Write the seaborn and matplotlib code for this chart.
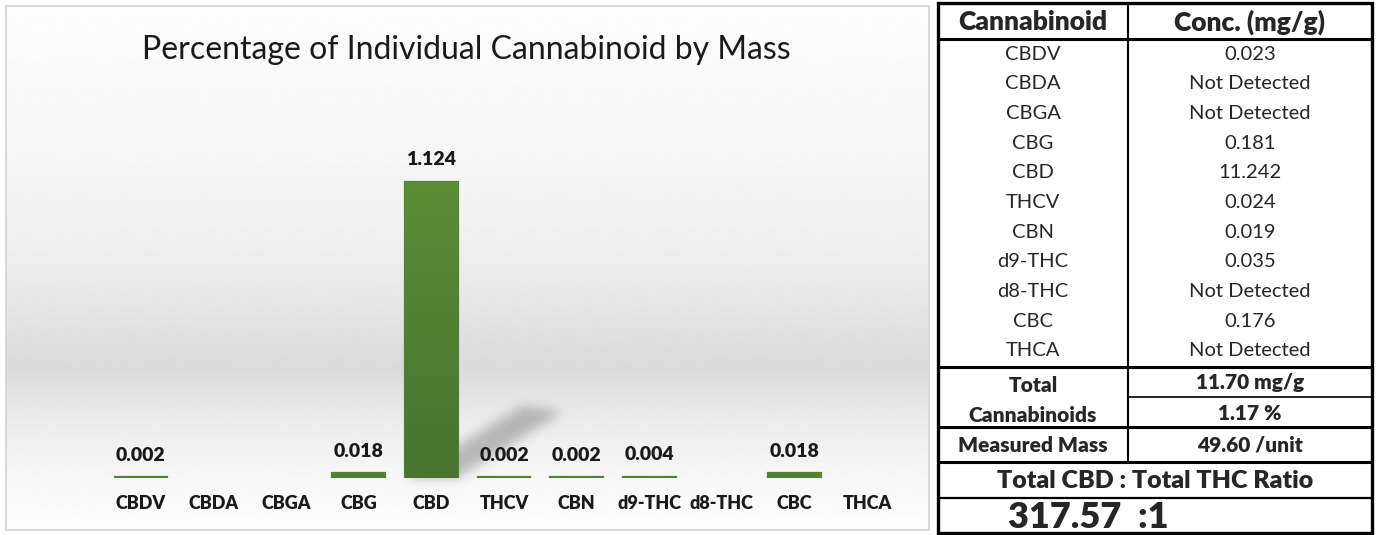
import numpy as np
import pandas as pd
import matplotlib
matplotlib.use("Agg")
import matplotlib.pyplot as plt
import seaborn as sns
from matplotlib.path import Path
from matplotlib.colors import LinearSegmentedColormap

# data
cannabinoids = ["CBDV", "CBDA", "CBGA", "CBG", "CBD", "THCV", "CBN", "d9-THC", "d8-THC", "CBC", "THCA"]
pct_by_mass = [0.002, 0.0, 0.0, 0.018, 1.124, 0.002, 0.002, 0.004, 0.0, 0.018, 0.0]
conc_mg_g = ["0.023", "Not Detected", "Not Detected", "0.181", "11.242", "0.024",
             "0.019", "0.035", "Not Detected", "0.176", "Not Detected"]
total_mg_g = "11.70 mg/g"
total_pct = "1.17 %"
measured_mass = "49.60 /unit"
cbd_thc_ratio = "317.57  :1"

sns.set_theme(style="white")
plt.rcParams["font.family"] = ["Lato", "DejaVu Sans"]

W, H = 1376, 535
fig = plt.figure(figsize=(W / 100, H / 100), dpi=100)
fig.patch.set_facecolor("white")

# background layer in pixel coords, y pointing down
bg = fig.add_axes([0, 0, 1, 1])
bg.axis("off")

# chart panel with the grey "floor" gradient
stops_y = [6, 150, 250, 300, 367, 400, 440, 480, 530]
stops_v = [0.99, 0.965, 0.935, 0.905, 0.855, 0.90, 0.94, 0.97, 0.99]
grad = np.interp(np.arange(6, 531), stops_y, stops_v)[:, None]
bg.imshow(grad, cmap="gray", vmin=0, vmax=1, extent=[6, 929, 530, 6],
          aspect="auto", interpolation="bilinear", zorder=0)
bg.add_patch(plt.Rectangle((6, 6), 923, 524, fill=False, ec="#d6d6d6", lw=1.3, zorder=1))

# bar chart
ax = fig.add_axes([104.7 / W, (H - 478) / H, 798.6 / W, 329.2 / H])
ax.patch.set_alpha(0)
df = pd.DataFrame({"cannabinoid": cannabinoids, "pct": pct_by_mass})
sns.barplot(data=df, x="cannabinoid", y="pct", order=cannabinoids, color="#548235",
            saturation=1, width=0.73, edgecolor="#548235", linewidth=1.6, ax=ax)
ax.set_ylim(0, 1.25)
ax.set_xlim(-0.5, 10.5)

bar_cmap = LinearSegmentedColormap.from_list("g", ["#4a7230", "#5b8d36"])
for p, v in zip(ax.patches, pct_by_mass):
    if v <= 0:
        p.set_linewidth(0)
        continue
    x0 = p.get_x()
    x1 = x0 + p.get_width()
    if v > 0.1:
        im = ax.imshow(np.linspace(1, 0, 50)[:, None], cmap=bar_cmap, extent=[x0, x1, 0, v],
                       aspect="auto", zorder=p.get_zorder() + 0.1)
        im.set_clip_path(p)
    ax.annotate(f"{v:.3f}", (x0 + p.get_width() / 2, v), xytext=(0, 16),
                textcoords="offset points", ha="center", va="center",
                fontsize=14, fontweight=800, color="#1a1a1a")
ax.set_ylim(0, 1.25)
ax.set_xlim(-0.5, 10.5)

ax.tick_params(axis="x", length=0, pad=12, labelsize=13, labelcolor="#1a1a1a")
for t in ax.get_xticklabels():
    t.set_fontweight(800)
ax.set_xlabel("")
ax.set_ylabel("")
ax.set_yticks([])
sns.despine(ax=ax, left=True, bottom=True)

# soft shadow cast by the tallest bar
big = ax.patches[int(np.argmax(pct_by_mass))]
(xl, yb), (xr, _) = ax.transData.transform(
    [(big.get_x(), 0), (big.get_x() + big.get_width(), 0)])
yb = H - yb
poly = Path([(xl, yb), (xr, yb), (xr + 104, yb - 66), (xl + 118, yb - 72), (xl, yb)])
gx, gy = np.meshgrid(np.arange(int(xl) - 30, int(xr) + 150) + 0.5,
                     np.arange(int(yb) - 110, int(yb) + 20) + 0.5)
mask = poly.contains_points(np.c_[gx.ravel(), gy.ravel()]).reshape(gx.shape).astype(float)
k = np.exp(-0.5 * (np.arange(-15, 16) / 5.5) ** 2)
k /= k.sum()
mask = np.apply_along_axis(lambda r: np.convolve(r, k, mode="same"), 1, mask)
mask = np.apply_along_axis(lambda c: np.convolve(c, k, mode="same"), 0, mask)
rgba = np.zeros(mask.shape + (4,))
rgba[..., :3] = 0.35
rgba[..., 3] = mask * 0.38
bg.imshow(rgba, extent=[gx.min() - 0.5, gx.max() + 0.5, gy.max() + 0.5, gy.min() - 0.5],
          aspect="auto", interpolation="bilinear", zorder=0.5)

fig.text(466 / W, 1 - 50 / H, "Percentage of Individual Cannabinoid by Mass",
         ha="center", va="center", fontsize=23, color="#1a1a1a")

# results table
TL, TR, TM = 938, 1372, 1128
c_left, c_right = (TL + TM) / 2, (TM + TR) / 2

def hline(y, x0=TL, x1=TR, lw=2.2):
    bg.plot([x0, x1], [y, y], color="black", lw=lw, solid_capstyle="butt", zorder=3)

bg.add_patch(plt.Rectangle((TL, 3), TR - TL, 530, fill=False, ec="black", lw=2.4, zorder=3))
bg.plot([TM, TM], [3, 462], color="black", lw=1.5, zorder=3)
hline(39)
hline(367)
hline(397, TM, TR, lw=1.2)
hline(427)
hline(462)
hline(498, lw=1.6)

bg.text(c_left, 22, "Cannabinoid", ha="center", va="center", fontsize=19, fontweight=800)
bg.text(c_right, 22, "Conc. (mg/g)", ha="center", va="center", fontsize=19, fontweight=800)
for i, (name, conc) in enumerate(zip(cannabinoids, conc_mg_g)):
    y = 54 + 29.7 * i
    bg.text(c_left, y, name, ha="center", va="center", fontsize=14.5)
    bg.text(c_right, y, conc, ha="center", va="center", fontsize=14.5)

bold = dict(ha="center", va="center", fontsize=15, fontweight=800)
bg.text(c_left, 385, "Total", **bold)
bg.text(c_left, 416, "Cannabinoids", **bold)
bg.text(c_right, 383, total_mg_g, **bold)
bg.text(c_right, 413, total_pct, **bold)
bg.text(c_left, 445, "Measured Mass", **bold)
bg.text(c_right, 445, measured_mass, **bold)
bg.text((TL + TR) / 2, 481, "Total CBD : Total THC Ratio", ha="center", va="center",
        fontsize=18, fontweight=800)
bg.text(1008, 517, cbd_thc_ratio, ha="left", va="center", fontsize=26, fontweight=800)

bg.set_xlim(0, W)
bg.set_ylim(H, 0)

fig.savefig("out.png", dpi=100, facecolor="white")
